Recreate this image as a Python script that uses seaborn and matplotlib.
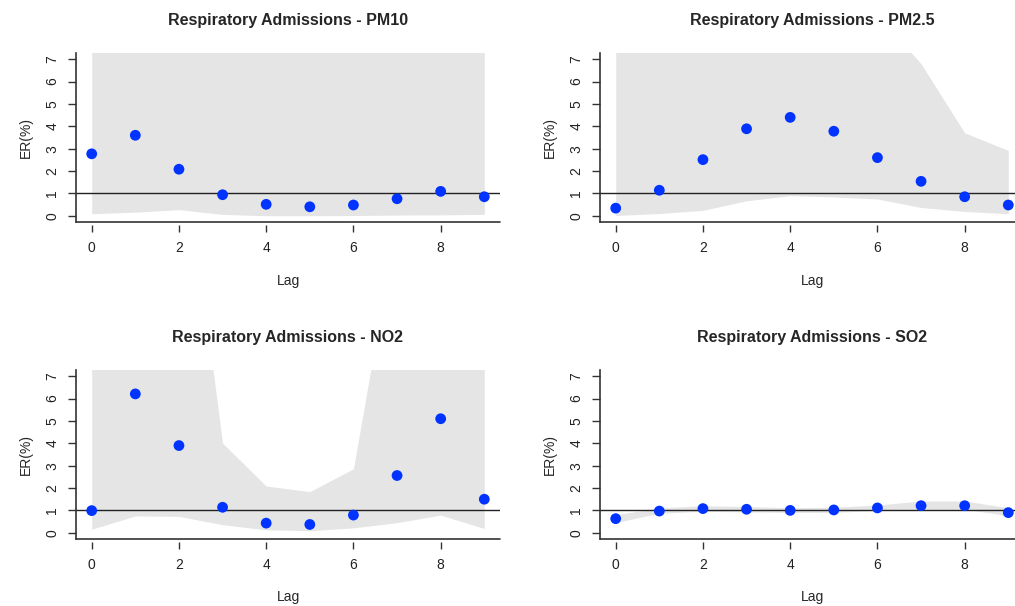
import numpy as np
import pandas as pd
import matplotlib
matplotlib.use("Agg")
import matplotlib.pyplot as plt
from matplotlib.lines import Line2D
import seaborn as sns

# --- Data ---
lags = [0, 1, 2, 3, 4, 5, 6, 7, 8, 9]

titles = ["Respiratory Admissions - PM10", "Respiratory Admissions - PM2.5",
          "Respiratory Admissions - NO2", "Respiratory Admissions - SO2"]

pm10_er = [2.77, 3.60, 2.08, 0.94, 0.51, 0.40, 0.48, 0.76, 1.09, 0.85]
pm10_lo = [0.09, 0.16, 0.27, 0.06, 0.00, 0.00, 0.01, 0.03, 0.04, 0.06]
pm10_hi = [12.0, 12.0, 12.0, 12.0, 12.0, 12.0, 12.0, 12.0, 12.0, 12.0]

pm25_er = [0.34, 1.14, 2.51, 3.89, 4.40, 3.78, 2.60, 1.54, 0.85, 0.48]
pm25_lo = [0.01, 0.10, 0.24, 0.67, 0.90, 0.84, 0.75, 0.37, 0.19, 0.09]
pm25_hi = [12.0, 12.0, 12.0, 12.0, 12.0, 11.0, 9.0, 6.8, 3.71, 2.92]

no2_er = [0.99, 6.21, 3.90, 1.14, 0.43, 0.37, 0.79, 2.56, 5.10, 1.50]
no2_lo = [0.16, 0.75, 0.73, 0.36, 0.13, 0.09, 0.22, 0.45, 0.79, 0.19]
no2_hi = [12.0, 15.0, 19.0, 4.01, 2.09, 1.84, 2.86, 14.0, 20.0, 12.0]

so2_er = [0.63, 0.97, 1.08, 1.05, 1.00, 1.02, 1.11, 1.21, 1.21, 0.90]
so2_lo = [0.46, 0.87, 0.96, 0.93, 0.91, 0.91, 1.00, 1.05, 1.05, 0.76]
so2_hi = [0.81, 1.11, 1.21, 1.17, 1.12, 1.14, 1.24, 1.42, 1.42, 1.12]

y_ticks = [0, 1, 2, 3, 4, 5, 6, 7]
x_ticks = [0, 2, 4, 6, 8]

BAND = "#e5e5e5"
POINT = "#0033ff"

sns.set_style("ticks")
plt.rcParams['font.family'] = ['Liberation Sans', 'DejaVu Sans']

W, H = 1015, 606
fig = plt.figure(figsize=(W / 100, H / 100), dpi=100)

# panel rectangles in pixels: left, top, right, bottom
rects = [(76, 53, 500, 222), (600, 53, 1024, 222),
         (76, 370, 500, 539), (600, 370, 1024, 539)]
panels = [(pm10_er, pm10_lo, pm10_hi), (pm25_er, pm25_lo, pm25_hi),
          (no2_er, no2_lo, no2_hi), (so2_er, so2_lo, so2_hi)]

for (l, t, r, b), title, (er, lo, hi) in zip(rects, titles, panels):
    ax = fig.add_axes([l / W, 1 - b / H, (r - l) / W, (b - t) / H])
    df = pd.DataFrame({"Lag": lags, "ER": er})
    ax.fill_between(lags, lo, hi, color=BAND, linewidth=0, zorder=1)
    ax.axhline(1, color="#222222", lw=1.0, zorder=2)
    sns.scatterplot(data=df, x="Lag", y="ER", ax=ax, color=POINT, s=60,
                    edgecolor="none", zorder=3)
    ax.set_xlim(-0.36, 9.36)
    ax.set_ylim(-0.28, 7.28)
    ax.set_xticks(x_ticks)
    ax.set_yticks(y_ticks)
    for lab in ax.get_yticklabels():
        lab.set_rotation(90)
        lab.set_va("center")
    ax.tick_params(axis="both", labelsize=10, width=1,
                   color="#333333", labelcolor="#222222")
    ax.tick_params(axis="y", length=5.5, pad=6.5)
    ax.tick_params(axis="x", length=5, pad=7)
    ax.spines["top"].set_visible(False)
    ax.spines["right"].set_visible(False)
    ax.spines["left"].set_color("#333333")
    ax.spines["left"].set_linewidth(1.2)
    # x axis ticks sit slightly below the box line, as in R
    ax.spines["bottom"].set_position(("outward", 2))
    ax.spines["bottom"].set_visible(False)
    ax.add_line(Line2D([0, 1], [0, 0], transform=ax.transAxes,
                       color="#333333", lw=1.2, clip_on=False))
    ax.set_title(title, fontsize=11.5, fontweight="bold", pad=20)
    ax.set_xlabel("Lag", fontsize=10, labelpad=13)
    ax.set_ylabel("ER(%)", fontsize=10, labelpad=9)

fig.savefig("out.png", dpi=100)
